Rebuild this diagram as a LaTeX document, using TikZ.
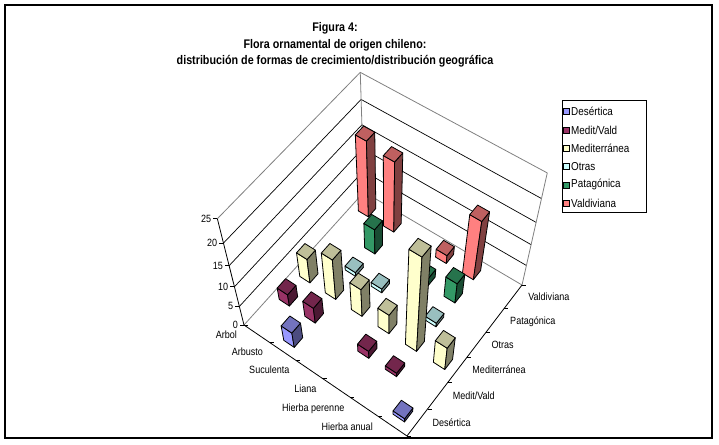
\documentclass[tikz,border=0pt]{standalone}
\usepackage{fontspec}
\newfontfamily\narrow[FakeStretch=0.86]{Liberation Sans}
\definecolor{cDes}{HTML}{9999FF}
\definecolor{cMV}{HTML}{993366}
\definecolor{cMed}{HTML}{FFFFCC}
\definecolor{cOtr}{HTML}{CCFFFF}
\definecolor{cPat}{HTML}{339966}
\definecolor{cVal}{HTML}{FF8080}
\definecolor{wallgray}{HTML}{808080}
% perspective projection: #1 name, #2 u, #3 v, #4 height
\newcommand\pj[4]{%
  \pgfmathsetmacro\pjden{\hg*(#2)+\hh*(#3)+1+(#4)*\ww}%
  \pgfmathsetmacro\pjx{(\ha*(#2)+\hb*(#3)+\hc+(#4)*\ww*\Vx)/\pjden}%
  \pgfmathsetmacro\pjy{(\hd*(#2)+\he*(#3)+\hf+(#4)*\ww*\Vy)/\pjden}%
  \coordinate (#1) at (\pjx,\pjy);}
% bar: #1 category, #2 series, #3 value, #4 colour
\newcommand\barr[4]{%
  \pgfmathsetmacro\bua{(#1+0.3)/6}\pgfmathsetmacro\bub{(#1+0.7)/6}%
  \pgfmathsetmacro\bva{(#2+0.3)/6}\pgfmathsetmacro\bvb{(#2+0.7)/6}%
  \pj{b0}{\bua}{\bva}{0}\pj{b1}{\bub}{\bva}{0}\pj{b2}{\bub}{\bvb}{0}%
  \pj{t0}{\bua}{\bva}{#3}\pj{t1}{\bub}{\bva}{#3}\pj{t2}{\bub}{\bvb}{#3}\pj{t3}{\bua}{\bvb}{#3}%
  \draw[barline,fill=#4] (b0) -- (b1) -- (t1) -- (t0) -- cycle;
  \draw[barline,fill=#4!50!black] (b1) -- (b2) -- (t2) -- (t1) -- cycle;
  \draw[barline,fill=#4!75!black] (t0) -- (t1) -- (t2) -- (t3) -- cycle;}
\begin{document}
\begin{tikzpicture}[x=1pt,y=-1pt,
  barline/.style={draw=black,line width=0.8pt,line join=round},
  grid/.style={draw=black,line width=0.7pt},
  border/.style={draw=wallgray,line width=0.8pt},
  axis/.style={draw=black,line width=0.8pt},
  lab/.style={font=\narrow\fontsize{10.5}{12}\selectfont,inner sep=0pt},
  leg/.style={font=\narrow\fontsize{11.5}{13}\selectfont,inner sep=0pt},
  ttl/.style={font=\narrow\bfseries\fontsize{12.5}{15}\selectfont,inner sep=0pt}]
\useasboundingbox (0,0) rectangle (719,444);
% floor homography (corners L, F, R, B) and vertical vanishing point
\pgfmathsetmacro\dxa{(407-522)/100}
\pgfmathsetmacro\dxb{(364-522)/100}
\pgfmathsetmacro\dxc{(244-407+522-364)/100}
\pgfmathsetmacro\dya{(436-285)/100}
\pgfmathsetmacro\dyb{(192-285)/100}
\pgfmathsetmacro\dyc{(325-436+285-192)/100}
\pgfmathsetmacro\hden{(\dxa)*(\dyb)-(\dxb)*(\dya)}
\pgfmathsetmacro\hg{((\dxc)*(\dyb)-(\dxb)*(\dyc))/\hden}
\pgfmathsetmacro\hh{((\dxa)*(\dyc)-(\dxc)*(\dya))/\hden}
\pgfmathsetmacro\ha{407-244+\hg*407}
\pgfmathsetmacro\hb{364-244+\hh*364}
\def\hc{244}
\pgfmathsetmacro\hd{436-325+\hg*436}
\pgfmathsetmacro\he{192-325+\hh*192}
\def\hf{325}
\def\Vx{385.6}
\def\Vy{890}
\def\ww{-0.00633}
% frame
\draw[line width=1.3pt] (5,5) rectangle (712,438);
% title
\node[ttl,anchor=base] (t1) at (335,32) {Figura 4:};
\node[ttl,anchor=base] (t2) at (335,48.5) {Flora ornamental de origen chileno:};
\node[ttl,anchor=base] (t3) at (335,64) {distribución de formas de crecimiento/distribución geográfica};
% walls
\pj{L0}{0}{0}{0}\pj{B0}{0}{1}{0}\pj{R0}{1}{1}{0}\pj{F0}{1}{0}{0}
\pj{L25}{0}{0}{25}\pj{B25}{0}{1}{25}\pj{R25}{1}{1}{25}
\foreach \z in {5,10,15,20} {
  \pj{gl}{0}{0}{\z}\pj{gb}{0}{1}{\z}\pj{gr}{1}{1}{\z}
  \draw[grid] (gl) -- (gb) -- (gr);
}
\draw[border] (L0) -- (B0) -- (R0);
\draw[border] (L25) -- (B25) -- (R25);
\draw[border] (B0) -- (B25);
\draw[border] (R0) -- (R25);
% vertical axis
\draw[axis] (L0) -- (L25);
\foreach \z in {0,5,10,15,20,25} {
  \pj{zt}{0}{0}{\z}
  \draw[axis] (zt) -- ++(-4,0);
  \path (zt) ++(-6,3.5) node[lab,anchor=base east] {\z};
}
% category axis
\draw[axis] (L0) -- (F0);
\foreach \k in {0,...,6} {
  \pgfmathsetmacro\uu{\k/6}
  \pj{ct}{\uu}{0}{0}
  \draw[axis] (ct) -- ++(4,0);
}
\foreach \i/\t in {0/Arbol,1/Arbusto,2/Suculenta,3/Liana,4/Hierba perenne,5/Hierba anual} {
  \pgfmathsetmacro\uu{(\i+0.5)/6}
  \pj{cl}{\uu}{0}{0}
  \path (cl) ++(-19.5,4.5) node[lab,anchor=base east] {\t};
}
% series axis
\draw[axis] (F0) -- (R0);
\foreach \k in {0,...,6} {
  \pgfmathsetmacro\vv{\k/6}
  \pj{st}{1}{\vv}{0}
  \draw[axis] (st) -- ++(4,0);
}
\foreach \j/\t in {0/{Desértica},1/{Medit/Vald},2/{Mediterránea},3/{Otras},4/{Patagónica},5/{Valdiviana}} {
  \pgfmathsetmacro\vv{(\j+0.5)/6}
  \pj{sl}{1}{\vv}{0}
  \path (sl) ++(15,4) node[lab,anchor=base west] {\t};
}
% bars, back to front
\barr{0}{5}{17}{cVal}\barr{1}{5}{16}{cVal}\barr{3}{5}{2}{cVal}\barr{4}{5}{14}{cVal}
\barr{1}{4}{6}{cPat}\barr{3}{4}{2}{cPat}\barr{4}{4}{5}{cPat}
\barr{1}{3}{1}{cOtr}\barr{2}{3}{1}{cOtr}\barr{4}{3}{1}{cOtr}
\barr{0}{2}{6}{cMed}\barr{1}{2}{10}{cMed}\barr{2}{2}{7}{cMed}\barr{3}{2}{5}{cMed}\barr{4}{2}{23}{cMed}\barr{5}{2}{6}{cMed}
\barr{0}{1}{3}{cMV}\barr{1}{1}{4}{cMV}\barr{3}{1}{2}{cMV}\barr{4}{1}{1}{cMV}
\barr{1}{0}{4}{cDes}\barr{5}{0}{1}{cDes}
% legend
\draw[line width=0.8pt] (562,100) rectangle (646,212);
\foreach \c/\t [count=\k from 0] in {cDes/{Desértica},cMV/{Medit/Vald},cMed/{Mediterránea},cOtr/{Otras},cPat/{Patagónica},cVal/{Valdiviana}} {
  \pgfmathsetmacro\ly{111.7+18.3*\k}
  \draw[line width=0.6pt,fill=\c] (563.5,\ly-3) rectangle ++(6,6);
  \node[leg,anchor=west] (lg\k) at (571,\ly) {\t};
}
\end{tikzpicture}
\end{document}
